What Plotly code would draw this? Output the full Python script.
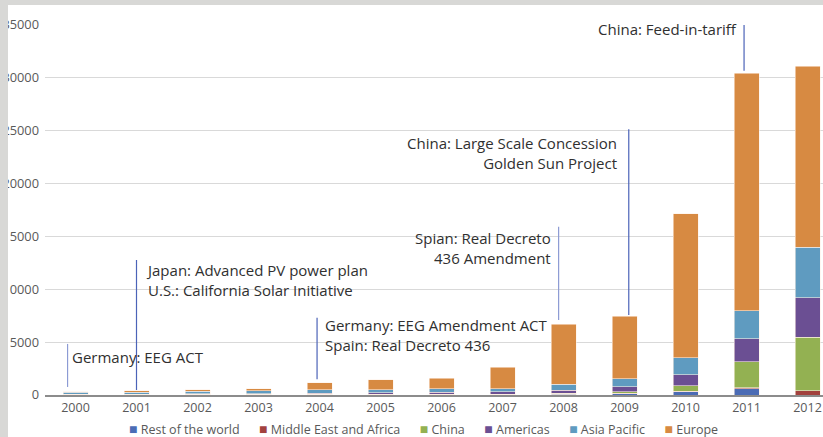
import plotly.graph_objects as go

# Annual PV installations by region (MW)
years = [2000, 2001, 2002, 2003, 2004, 2005, 2006, 2007, 2008, 2009, 2010, 2011, 2012]
rest_of_world = [40, 30, 40, 40, 50, 40, 40, 40, 80, 120, 310, 570, 0]
middle_east_africa = [10, 10, 10, 10, 10, 10, 10, 20, 20, 30, 40, 120, 400]
china = [10, 10, 20, 20, 10, 10, 20, 20, 50, 160, 540, 2460, 5040]
americas = [30, 40, 60, 70, 110, 130, 170, 230, 310, 470, 1010, 2150, 3750]
asia_pacific = [150, 150, 220, 260, 300, 300, 330, 280, 540, 760, 1610, 2680, 4770]
europe = [70, 140, 150, 200, 700, 930, 1010, 2030, 5700, 5930, 13620, 22460, 17150]

series_names = ["Rest of the world", "Middle East and Africa", "China",
                "Americas", "Asia Pacific", "Europe"]
series_values = [rest_of_world, middle_east_africa, china, americas, asia_pacific, europe]
series_colors = ["#4b6cb5", "#a2423e", "#93b152", "#6b4f93", "#5f9bc0", "#d78a42"]

# Policy milestones: (year, x offset, line bottom, line top, text, label x, label y, anchor, colour)
events_year = [2000, 2001, 2004, 2008, 2009, 2011]
events_dx = [-0.13, 0.0, -0.04, -0.08, 0.07, -0.04]
events_y0 = [760, 470, 1480, 7100, 7570, 30680]
events_y1 = [4830, 12770, 7310, 15920, 25140, 35850]
events_text = [
    "Germany: EEG ACT",
    "Japan: Advanced PV power plan<br>U.S.: California Solar Initiative",
    "Germany: EEG Amendment ACT<br>Spain: Real Decreto 436",
    "Spian: Real Decreto<br>436 Amendment",
    "China: Large Scale Concession<br>Golden Sun Project",
    "China: Feed-in-tariff",
]
events_tx = [1999.91, 2001.13, 2004.05, 2007.83, 2008.91, 2010.88]
events_ty = [3600, 10880, 5680, 13860, 22860, 34600]
events_anchor = ["left", "left", "left", "right", "right", "right"]
events_color = ["#8c9bd4", "#4b63b8", "#4b63b8", "#8c9bd4", "#4b63b8", "#4b63b8"]

y_ticks = [0, 5000, 10000, 15000, 20000, 25000, 30000, 35000]

FONT = "Open Sans"
W, H = 823, 437
ML, MR, MT, MB = 45, 0, 25, 42

fig = go.Figure()
for name, vals, col in zip(series_names, series_values, series_colors):
    fig.add_trace(go.Bar(
        x=years, y=vals, name=name,
        marker=dict(color=col, line=dict(color="rgba(255,240,230,0.7)", width=0.8)),
        showlegend=False,
    ))

shapes = []
annotations = []
for yr, dx, y0, y1, txt, tx, ty, anc, col in zip(events_year, events_dx, events_y0, events_y1,
                                                 events_text, events_tx, events_ty,
                                                 events_anchor, events_color):
    shapes.append(dict(type="line", xref="x", yref="y", x0=yr + dx, x1=yr + dx,
                       y0=y0, y1=y1, line=dict(color=col, width=1.2)))
    annotations.append(dict(xref="x", yref="y", x=tx, y=ty, text=txt, showarrow=False,
                            xanchor=anc, yanchor="middle", align=anc,
                            font=dict(family=FONT, size=15, color="#303030")))

# Legend row built as text with coloured squares
sp = "&nbsp;" * 6
legend_text = sp.join(
    f'<span style="color:{c};font-size:14px">■</span>&nbsp;{n}'
    for n, c in zip(series_names, series_colors)
)
annotations.append(dict(xref="paper", yref="paper", x=(423 - ML) / (W - ML - MR),
                        y=-(428 - (H - MB)) / (H - MT - MB), text=legend_text,
                        showarrow=False, xanchor="center", yanchor="middle",
                        font=dict(family=FONT, size=12.5, color="#595959")))

# Textured backdrop edges (left and top), drawn over the plot frame
pw = W - ML - MR
ph = H - MT - MB
bg = "#d8d8d6"
shapes.append(dict(type="rect", xref="paper", yref="paper", layer="above",
                   x0=-ML / pw, x1=(8 - ML) / pw, y0=-MB / ph, y1=(H - MB) / ph,
                   fillcolor=bg, line=dict(width=0)))
shapes.append(dict(type="rect", xref="paper", yref="paper", layer="above",
                   x0=-ML / pw, x1=1.0, y0=(H - MB - 5) / ph, y1=(H - MB) / ph,
                   fillcolor=bg, line=dict(width=0)))

fig.update_layout(
    width=W, height=H,
    margin=dict(l=ML, r=MR, t=MT, b=MB),
    barmode="stack", bargap=0.59,
    paper_bgcolor="white", plot_bgcolor="white",
    font=dict(family=FONT, color="#595959"),
    shapes=shapes, annotations=annotations,
    xaxis=dict(range=[1999.5, 1999.5 + (W - ML - MR) / 61.0], tickmode="array",
               tickvals=years, ticktext=[str(y) for y in years],
               showgrid=False, showline=True, linecolor="#8c8c8c", linewidth=1.5,
               ticks="", tickfont=dict(family=FONT, size=12.5, color="#595959"),
               zeroline=False),
    yaxis=dict(range=[0, 35000], tickmode="array", tickvals=y_ticks,
               ticktext=[str(v) for v in y_ticks],
               showgrid=True, gridcolor="#d9d9d9", gridwidth=1.3,
               showline=False, zeroline=False, ticks="", ticklabelstandoff=5,
               tickfont=dict(family=FONT, size=12.8, color="#595959")),
)

fig.write_html("out.html")
